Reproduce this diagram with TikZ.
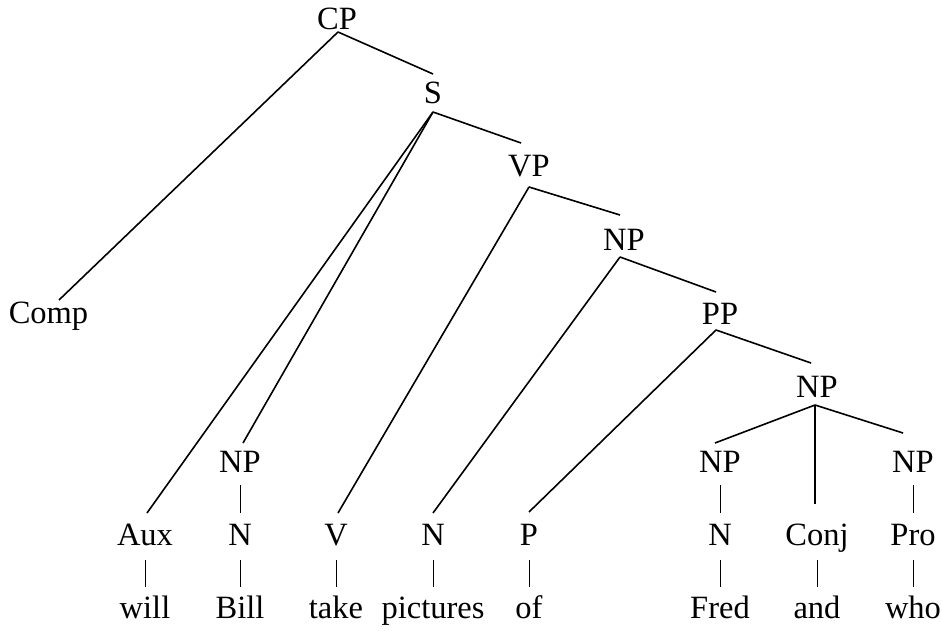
\documentclass[tikz,border=0pt]{standalone}
\usepackage{fontspec}
\setmainfont{Liberation Serif}
\begin{document}
\begin{tikzpicture}[x=1pt,y=-1pt,
  lbl/.style={anchor=base,inner sep=0pt,font=\fontsize{32.5}{36}\selectfont},
  branch/.style={line width=1.6pt},
  bar/.style={line width=0.8pt}]
\useasboundingbox (0,0) rectangle (942,631);
% phrase nodes
\node[lbl] (CP) at (337,30) {CP};
\node[lbl] (S) at (433,104) {S};
\node[lbl] (Comp) at (48.5,323) {Comp};
\node[lbl] (VP) at (529,177) {VP};
\node[lbl] (NP2) at (624,251) {NP};
\node[lbl] (PP) at (720,324) {PP};
\node[lbl] (NP3) at (817,397) {NP};
\node[lbl] (NP1) at (240,472) {NP};
\node[lbl] (NPf) at (720,472) {NP};
\node[lbl] (NPw) at (913,472) {NP};
% categories
\node[lbl] (Aux) at (145,545) {Aux};
\node[lbl] (N1) at (240,545) {N};
\node[lbl] (V) at (336,545) {V};
\node[lbl] (N2) at (433,545) {N};
\node[lbl] (P) at (529,545) {P};
\node[lbl] (Nf) at (720,545) {N};
\node[lbl] (Conj) at (817,545) {Conj};
\node[lbl] (Pro) at (913,545) {Pro};
% words
\node[lbl] (will) at (145,618) {will};
\node[lbl] (Bill) at (240,618) {Bill};
\node[lbl] (take) at (336,618) {take};
\node[lbl] (pictures) at (433,618) {pictures};
\node[lbl] (of) at (529,618) {of};
\node[lbl] (Fred) at (720,618) {Fred};
\node[lbl] (and) at (817,618) {and};
\node[lbl] (who) at (913,618) {who};
% branches
\draw[branch] ([shift={(1,2)}]CP.base) -- ([shift={(10.5,-23)}]Comp.base);
\draw[branch] ([shift={(1,2)}]CP.base) -- ([shift={(0,-30)}]S.base);
\draw[branch] ([shift={(0,8)}]S.base) -- ([shift={(2,-32)}]Aux.base);
\draw[branch] ([shift={(0,8)}]S.base) -- ([shift={(3,-29)}]NP1.base);
\draw[branch] ([shift={(0,8)}]S.base) -- ([shift={(-8,-34)}]VP.base);
\draw[branch] ([shift={(0,10)}]VP.base) -- ([shift={(2,-32)}]V.base);
\draw[branch] ([shift={(0,10)}]VP.base) -- ([shift={(-4,-36)}]NP2.base);
\draw[branch] ([shift={(-4,6)}]NP2.base) -- ([shift={(0,-32)}]N2.base);
\draw[branch] ([shift={(-4,6)}]NP2.base) -- ([shift={(-4,-32)}]PP.base);
\draw[branch] ([shift={(-4,6)}]PP.base) -- ([shift={(0,-33)}]P.base);
\draw[branch] ([shift={(-4,6)}]PP.base) -- ([shift={(-6,-34)}]NP3.base);
\draw[branch] ([shift={(-2,8)}]NP3.base) -- ([shift={(-5,-29)}]NPf.base);
\draw[branch] ([shift={(-2,8)}]NP3.base) -- ([shift={(-2,-41)}]Conj.base);
\draw[branch] ([shift={(-2,8)}]NP3.base) -- ([shift={(-10,-39)}]NPw.base);
% short bars
\foreach \a/\b in {NP1/N1,NPf/Nf,NPw/Pro}
  \draw[bar] ([shift={(0,13)}]\a.base) -- ([shift={(0,-32)}]\b.base);
\foreach \a/\b in {Aux/will,N1/Bill,V/take,N2/pictures,P/of,Nf/Fred,Conj/and,Pro/who}
  \draw[bar] ([shift={(0,15)}]\a.base) -- ([shift={(0,-31)}]\b.base);
\end{tikzpicture}
\end{document}
